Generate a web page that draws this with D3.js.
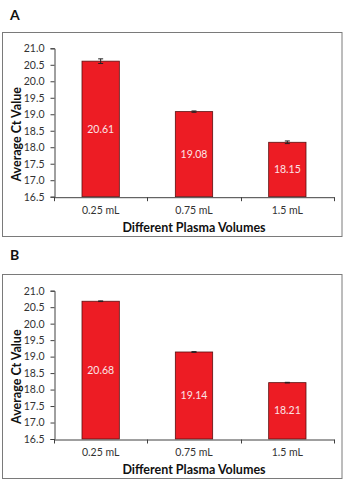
<!DOCTYPE html>
<html>
<head>
<meta charset="utf-8">
<script src="https://cdn.jsdelivr.net/npm/d3@7"></script>
<style>
  html, body { margin: 0; padding: 0; background: #fff; }
  svg { display: block; }
  text { font-family: Lato, "Open Sans", sans-serif; }
</style>
</head>
<body>
<svg id="chart" width="343" height="480"></svg>
<script>
const categories = ["0.25 mL", "0.75 mL", "1.5 mL"];
const valuesA = [20.61, 19.08, 18.15];
const errorsA = [0.07, 0.02, 0.04];
const valuesB = [20.68, 19.14, 18.21];
const errorsB = [0.01, 0.01, 0.01];
const yTicks = [16.5, 17.0, 17.5, 18.0, 18.5, 19.0, 19.5, 20.0, 20.5, 21.0];
const panelLabels = ["A", "B"];
const xTitle = "Different Plasma Volumes";
const yTitle = "Average Ct Value";

const svg = d3.select("#chart");

function drawPanel(label, values, errors, layout) {
  const g = svg.append("g");
  g.append("text").attr("x", 10).attr("y", layout.labelY)
    .attr("font-size", 14).attr("font-weight", "bold").attr("fill", "#111")
    .text(label);
  g.append("rect").attr("x", 2.5).attr("y", layout.boxTop + 0.5)
    .attr("width", 339.5).attr("height", layout.boxBottom - layout.boxTop)
    .attr("fill", "none").attr("stroke", "#7a7a7a").attr("stroke-width", 1);

  const x = d3.scaleBand().domain(categories).range([54, 334])
    .paddingInner(0.6).paddingOuter(0.3);
  const y = d3.scaleLinear().domain([16.5, 21.0]).range([layout.plotBottom, layout.plotTop]);

  g.selectAll("rect.bar").data(values).enter().append("rect")
    .attr("class", "bar")
    .attr("x", (d, i) => x(categories[i]))
    .attr("y", d => y(d))
    .attr("width", x.bandwidth())
    .attr("height", d => y(16.5) - y(d))
    .attr("fill", "#ED1C24").attr("stroke", "#5a1010").attr("stroke-width", 0.8);

  const eb = g.selectAll("g.eb").data(values).enter().append("g")
    .attr("stroke", "#222").attr("stroke-width", 1);
  const cx = i => x(categories[i]) + x.bandwidth() / 2;
  eb.append("line")
    .attr("x1", (d, i) => cx(i)).attr("x2", (d, i) => cx(i))
    .attr("y1", (d, i) => y(d + errors[i])).attr("y2", (d, i) => y(d - errors[i]));
  eb.append("line")
    .attr("x1", (d, i) => cx(i) - 2.5).attr("x2", (d, i) => cx(i) + 2.5)
    .attr("y1", (d, i) => y(d + errors[i])).attr("y2", (d, i) => y(d + errors[i]));
  eb.append("line")
    .attr("x1", (d, i) => cx(i) - 2.5).attr("x2", (d, i) => cx(i) + 2.5)
    .attr("y1", (d, i) => y(d - errors[i])).attr("y2", (d, i) => y(d - errors[i]));

  g.selectAll("text.val").data(values).enter().append("text")
    .attr("x", (d, i) => cx(i))
    .attr("y", d => (y(d) + y(16.5)) / 2)
    .attr("dy", "0.35em")
    .attr("text-anchor", "middle")
    .attr("font-size", 10.5).attr("fill", "#fbe3e6")
    .text(d => d.toFixed(2));

  const yAxis = d3.axisLeft(y).tickValues(yTicks).tickFormat(d3.format(".1f"))
    .tickSize(4).tickPadding(6);
  const ya = g.append("g").attr("transform", "translate(54.5,0)").call(yAxis);
  ya.select(".domain").attr("stroke", "#404040");
  ya.selectAll(".tick line").attr("stroke", "#404040");
  ya.selectAll(".tick text").attr("font-size", 10.5).attr("fill", "#333")
    .attr("font-family", "Lato, 'Open Sans', sans-serif");

  const xAxis = d3.axisBottom(x).tickSize(0).tickPadding(9);
  const xa = g.append("g").attr("transform", `translate(0,${y(16.5) + 0.5})`).call(xAxis);
  xa.select(".domain").attr("stroke", "#404040");
  xa.selectAll(".tick text").attr("font-size", 10.5).attr("fill", "#333")
    .attr("font-family", "Lato, 'Open Sans', sans-serif");
  const bounds = [x.range()[0]].concat(categories.slice(1).map(c => x(c) - x.step() * x.paddingInner() / 2));
  bounds.push(x.range()[1]);
  xa.selectAll("line.bt").data(bounds).enter().append("line")
    .attr("x1", d => Math.round(d) + 0.5).attr("x2", d => Math.round(d) + 0.5)
    .attr("y1", 0).attr("y2", 4).attr("stroke", "#404040");

  g.append("text").attr("x", 194).attr("y", layout.plotBottom + 35)
    .attr("text-anchor", "middle").attr("font-size", 12.5).attr("font-weight", "bold").attr("fill", "#111")
    .text(xTitle);
  const cy = layout.plotTop + 86;
  g.append("text").attr("transform", `translate(21,${cy}) rotate(-90)`)
    .attr("text-anchor", "middle").attr("font-size", 12.5).attr("font-weight", "bold").attr("fill", "#111")
    .text(yTitle);
}

drawPanel(panelLabels[0], valuesA, errorsA, { labelY: 20, boxTop: 32, boxBottom: 236, plotTop: 48.3, plotBottom: 196.7 });
drawPanel(panelLabels[1], valuesB, errorsB, { labelY: 260, boxTop: 274, boxBottom: 478, plotTop: 290.7, plotBottom: 439 });
</script>
</body>
</html>
